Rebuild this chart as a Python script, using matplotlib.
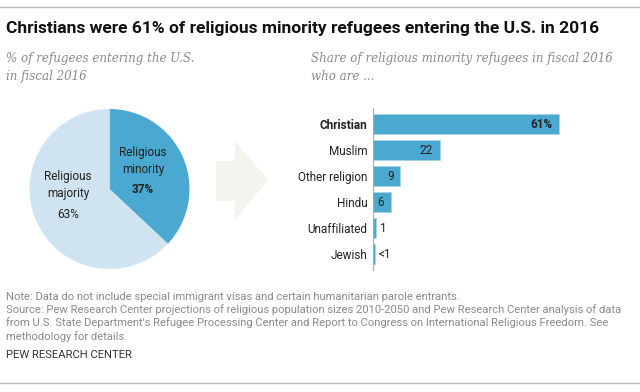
import matplotlib
matplotlib.use("Agg")
import matplotlib.pyplot as plt
from matplotlib.patches import Polygon
from matplotlib.lines import Line2D

# data
pie_labels = ["Religious\nminority", "Religious\nmajority"]
pie_values = [37, 63]
pie_pct = ["37%", "63%"]

religions = ["Christian", "Muslim", "Other religion", "Hindu", "Unaffiliated", "Jewish"]
shares = [61, 22, 9, 6, 1, 0.5]
share_labels = ["61%", "22", "9", "6", "1", "<1"]

W, H = 640, 392
BLUE = "#4ba8d0"
LIGHT = "#cfe3f1"
SANS = ["Roboto", "DejaVu Sans"]
SERIF = ["DejaVu Serif"]

plt.rcParams["font.family"] = SANS

fig = plt.figure(figsize=(W / 100, H / 100), dpi=100)


def px(x, y):
    return x / W, 1 - y / H


def txt(x, y, s, **kw):
    fig.text(*px(x, y), s, **kw)


# frame lines
fig.add_artist(Line2D([0, 1], [1 - 7 / H] * 2, color="#bbbbbb", lw=1))
fig.add_artist(Line2D([0, 1], [1 - 383 / H] * 2, color="#bbbbbb", lw=1))

txt(6, 28, "Christians were 61% of religious minority refugees entering the U.S. in 2016",
    fontsize=12.5, fontweight="bold", va="center", color="#111111")
txt(6, 67.5, "% of refugees entering the U.S.\nin fiscal 2016", fontsize=8.6,
    family=SERIF, style="italic", color="#8a8a8a", va="center", linespacing=1.5)
txt(311, 67.5, "Share of religious minority refugees in fiscal 2016\nwho are ...", fontsize=8.6,
    family=SERIF, style="italic", color="#8a8a8a", va="center", linespacing=1.5)

# pie
ax_pie = fig.add_axes([29.5 / W, (H - 269) / H, 160 / W, 160 / H])
ax_pie.pie(pie_values, colors=[BLUE, LIGHT], startangle=90, counterclock=False,
           wedgeprops=dict(linewidth=0))
ax_pie.set_xlim(-1, 1)
ax_pie.set_ylim(-1, 1)
ax_pie.set_aspect("equal")
ax_pie.axis("off")

txt(143, 161, pie_labels[0], fontsize=8.5, ha="center", va="center", color="#222222", linespacing=1.45)
txt(143, 189, pie_pct[0], fontsize=8.5, ha="center", va="center", color="#222222", fontweight="bold")
txt(68, 185, pie_labels[1], fontsize=8.5, ha="center", va="center", color="#222222", linespacing=1.45)
txt(68, 214, pie_pct[1], fontsize=8.5, ha="center", va="center", color="#222222")

# arrow
arrow = Polygon([px(216, 161), px(235, 161), px(235, 141), px(268, 180),
                 px(235, 220), px(235, 201), px(216, 201)],
                closed=True, transform=fig.transFigure, facecolor="#f4f4ef", edgecolor="none")
fig.add_artist(arrow)

# bars
x0, x1 = 373, 600
scale = 3.05
ax = fig.add_axes([x0 / W, (H - 270) / H, (x1 - x0) / W, 162 / H])
ypos = list(range(len(religions)))
ax.barh(ypos, shares, height=0.77, color=BLUE, edgecolor="#a9d3e8", linewidth=0.6)
ax.set_xlim(0, (x1 - x0) / scale)
ax.set_ylim((270 - 124) / 26, (108 - 124) / 26)
for s in ["top", "right", "bottom"]:
    ax.spines[s].set_visible(False)
ax.spines["left"].set_color("#aaaaaa")
ax.spines["left"].set_linewidth(0.8)
ax.set_xticks([])
ax.set_yticks(ypos)
ax.set_yticklabels(religions, fontsize=8.5, color="#222222")
ax.tick_params(axis="y", length=0, pad=4)
ax.get_yticklabels()[0].set_fontweight("bold")

for i, (v, lab) in enumerate(zip(shares, share_labels)):
    if v > 3:
        ax.annotate(lab, (v, i), xytext=(-5, 0), textcoords="offset points",
                    ha="right", va="center", fontsize=8.5, color="#222222",
                    fontweight="bold" if i == 0 else "normal")
    else:
        ax.annotate(lab, (v, i), xytext=(3, 0), textcoords="offset points",
                    ha="left", va="center", fontsize=8.5, color="#222222")

# notes
note_col = "#8a8a8a"
txt(6, 297, "Note: Data do not include special immigrant visas and certain humanitarian parole entrants.",
    fontsize=8.1, color=note_col, va="center")
txt(6, 323, "Source: Pew Research Center projections of religious population sizes 2010-2050 and Pew Research Center analysis of data\n"
    "from U.S. State Department's Refugee Processing Center and Report to Congress on International Religious Freedom. See\n"
    "methodology for details.", fontsize=8.1, color=note_col, va="center", linespacing=1.3)
txt(6, 355, "PEW RESEARCH CENTER", fontsize=8.1, color="#333333", va="center")

fig.savefig("out.png", dpi=100)
